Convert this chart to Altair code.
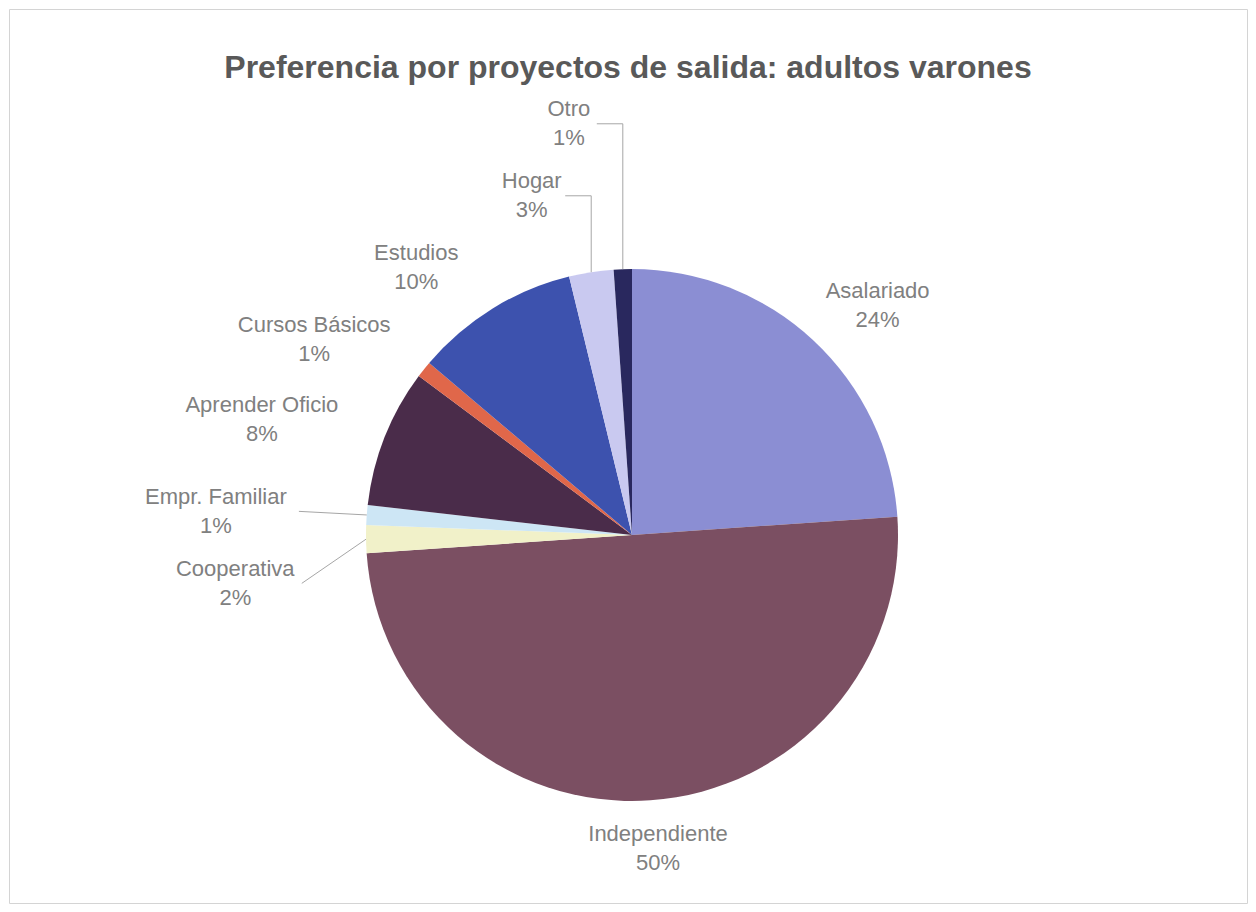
import math
import altair as alt
import pandas as pd

# ---------------- data ----------------
title_text = "Preferencia por proyectos de salida: adultos varones"
categories = ["Asalariado", "Independiente", "Cooperativa", "Empr. Familiar",
              "Aprender Oficio", "Cursos Básicos", "Estudios", "Hogar", "Otro"]
values = [23.9, 50.0, 1.7, 1.2, 8.4, 1.0, 10.0, 2.7, 1.1]
colors = ["#8B8ED3", "#7B4F62", "#F1F1C9", "#CDE6F5", "#4A2C4A",
          "#E0674A", "#3D52AE", "#C9C9F0", "#29285E"]

# ---------------- layout constants ----------------
PAD = 1
W, H = 1238, 894          # view size (whole page inside the margin)
CX, CY = 623, 526         # pie centre inside the view
R = 266                   # pie radius
FONT = 22
LINE_H = 29
GAP = 19
SPACING = 72
RC = 310

total = sum(values)
rows = []
cum = 0.0
for i, (c, v) in enumerate(zip(categories, values)):
    start = cum / total * 360.0
    cum += v
    end = cum / total * 360.0
    mid = math.radians((start + end) / 2)
    lines = [c, f"{round(v / total * 100)}%"]
    w = 0.5 * FONT * max(len(s) for s in lines)
    h = LINE_H * 2
    s, co = math.sin(mid), math.cos(mid)
    nx = (R + GAP + 20) * s + w / 2 * s
    ny = -(R + GAP) * co - h / 2 * co
    rows.append(dict(idx=i, cat=c, value=v, mid=mid, lines=lines, w=w,
                     nx=nx, ny=ny, lx=nx, ly=ny, leader=False, conflict=False))

# spread labels on the left side, pushing away from the largest slice's label
left = sorted([r for r in rows if math.degrees(r["mid"]) > 180], key=lambda r: r["mid"])
ys = [r["ny"] for r in left]
piv = max(range(len(left)), key=lambda k: left[k]["value"])
for k in range(piv - 1, -1, -1):          # towards the bottom
    ys[k] = max(ys[k], ys[k + 1] + SPACING)
for k in range(piv + 1, len(left)):       # towards the top
    ys[k] = min(ys[k], ys[k - 1] - SPACING)
for k, (r, y) in enumerate(zip(left, ys)):
    r["ly"] = y
    if abs(y - r["ny"]) > 15:
        r["conflict"] = True
        r["leader"] = True
        nb = k + 1 if k < piv else k - 1
        if 0 <= nb < len(left):
            left[nb]["conflict"] = True
for r in left:
    y = r["ly"]
    side = abs(y) < R * 0.6
    if r["conflict"] and side:
        r["leader"] = True
    x_circle = -(math.sqrt(max(RC ** 2 - y ** 2, 0)) + r["w"] / 2)
    ax = R * math.sin(r["mid"])
    x_anchor = ax - 32 - r["w"] / 2
    x = min(x_circle, x_anchor)
    if r["leader"] and side:
        x -= 30
    r["lx"] = x

df = pd.DataFrame({"cat": categories, "value": values, "idx": list(range(len(values)))})

lab = pd.DataFrame({
    "cat": [r["cat"] for r in rows],
    "label": [r["lines"] for r in rows],
    "lt": [math.degrees(math.atan2(r["lx"], -r["ly"])) % 360 for r in rows],
    "lr": [math.hypot(r["lx"], r["ly"]) for r in rows],
})

# leader lines (from label edge to slice edge)
lead_rows = []
for r in rows:
    if not r["leader"]:
        continue
    ax = R * math.sin(r["mid"])
    ay = -R * math.cos(r["mid"])
    ex = r["lx"] + r["w"] / 2 + 6
    ey = r["ly"]
    if abs(r["ly"]) < R * 0.6:
        pts = [(ex, ey), (ax, ay)]
    else:
        pts = [(ex, ey), (ax, ey), (ax, ay)]
    for o, (px, py) in enumerate(pts):
        lead_rows.append(dict(g=r["cat"], o=o, x=CX + px, y=CY + py))
lead = pd.DataFrame(lead_rows)

pie = alt.Chart(df).mark_arc(outerRadius=R).encode(
    theta=alt.Theta("value:Q", stack=True),
    color=alt.Color("cat:N", scale=alt.Scale(domain=categories, range=colors), legend=None),
    order=alt.Order("idx:Q"),
    x=alt.value(CX),
    y=alt.value(CY),
)

labels = alt.Chart(lab).mark_text(
    font="Liberation Sans", fontSize=FONT, lineHeight=LINE_H,
    color="#808080", align="center", baseline="middle", dy=-LINE_H / 2,
).encode(
    theta=alt.Theta("lt:Q", stack=False,
                    scale=alt.Scale(domain=[0, 360], range=[0, 2 * math.pi])),
    radius=alt.Radius("lr:Q", scale=alt.Scale(type="linear", domain=[0, 1000],
                                              range=[0, 1000], zero=True, nice=False)),
    text="label",
    x=alt.value(CX),
    y=alt.value(CY),
)

leaders = alt.Chart(lead).mark_line(color="#A6A6A6", strokeWidth=1).encode(
    x=alt.X("x:Q", scale=alt.Scale(domain=[0, W], nice=False, zero=False), axis=None),
    y=alt.Y("y:Q", scale=alt.Scale(domain=[0, H], reverse=True, nice=False, zero=False), axis=None),
    detail="g:N",
    order="o:Q",
)

chart = alt.layer(pie, leaders, labels).resolve_scale(
    theta="independent", radius="independent"
).properties(
    width=W, height=H,
    autosize=alt.AutoSizeParams(type="none"),
    padding={"top": PAD, "left": PAD, "right": PAD, "bottom": PAD},
    title=alt.TitleParams(title_text, font="Liberation Sans", fontSize=32,
                          fontWeight="bold", color="#595959", anchor="middle",
                          offset=-76),
    background="white",
).configure_view(stroke="#D4D4D4", strokeWidth=1)

chart.save("out.html", embed_options={"renderer": "svg", "actions": False})
